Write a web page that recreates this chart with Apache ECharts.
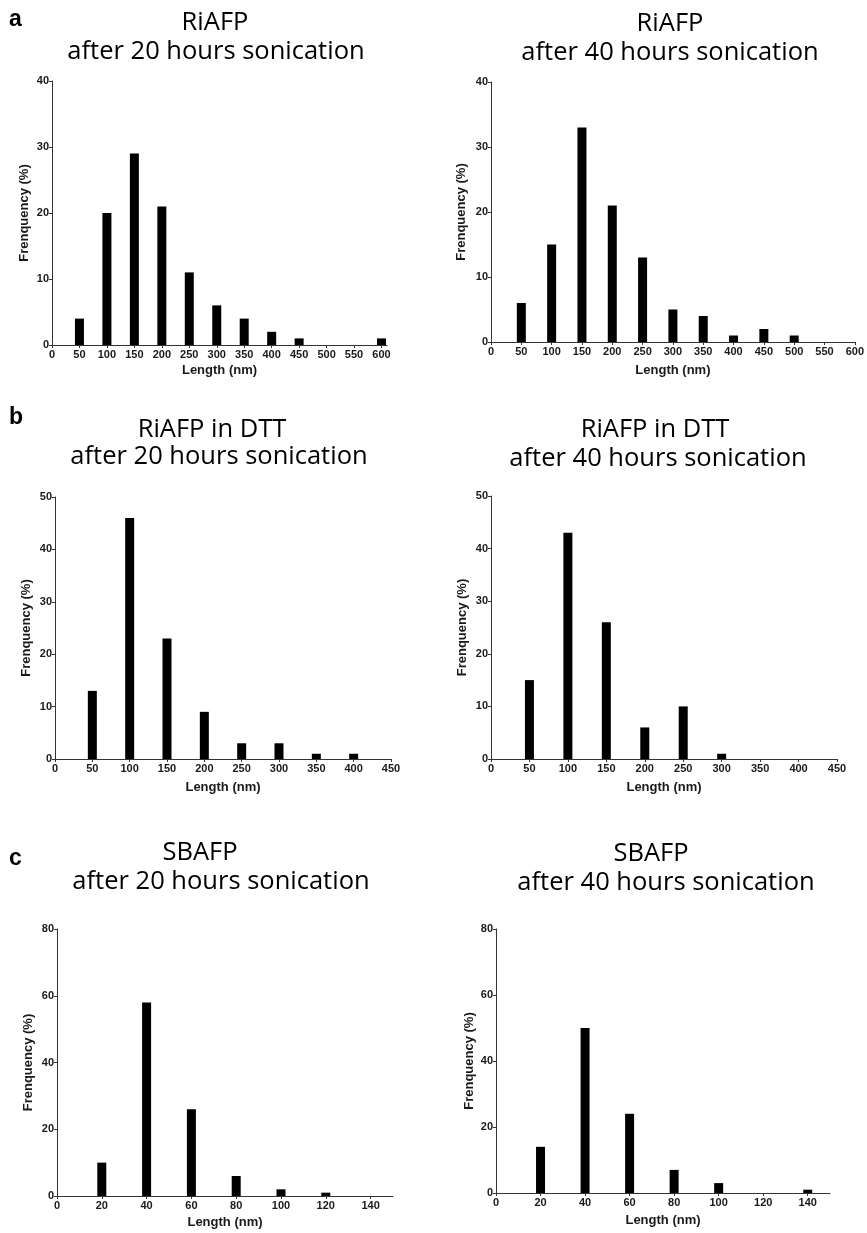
<!DOCTYPE html>
<html>
<head>
<meta charset="utf-8">
<script src="https://cdn.jsdelivr.net/npm/echarts@6/dist/echarts.min.js"></script>
<style>
html,body{margin:0;padding:0;background:#fff;}
#chart{width:867px;height:1233px;}
</style>
</head>
<body>
<div id="chart"></div>
<script>
// ---- data ----
const lenA = [50,100,150,200,250,300,350,400,450,500,550,600];
const freqA20 = [4,20,29,21,11,6,4,2,1,0,0,1];
const freqA40 = [6,15,33,21,13,5,4,1,2,1,0,0];
const lenB = [50,100,150,200,250,300,350,400];
const freqB20 = [13,46,23,9,3,3,1,1];
const freqB40 = [15,43,26,6,10,1,0,0];
const lenC = [20,40,60,80,100,120,140];
const freqC20 = [10,58,26,6,2,1,0];
const freqC40 = [14,50,24,7,3,0,1];
const xTicksA = [0,50,100,150,200,250,300,350,400,450,500,550,600];
const xTicksB = [0,50,100,150,200,250,300,350,400,450];
const xTicksC = [0,20,40,60,80,100,120,140];
const yTicksA = [0,10,20,30,40];
const yTicksB = [0,10,20,30,40,50];
const yTicksC = [0,20,40,60,80];
const titles = [
  ["RiAFP","after 20 hours sonication"],
  ["RiAFP","after 40 hours sonication"],
  ["RiAFP in DTT","after 20 hours sonication"],
  ["RiAFP in DTT","after 40 hours sonication"],
  ["SBAFP","after 20 hours sonication"],
  ["SBAFP","after 40 hours sonication"]
];
const panelLetters = ["a","b","c"];

// ---- layout ----
const panels = [
  {grid:{left:52,top:81,width:335,height:264}, xs:lenA, ys:freqA20, xt:xTicksA, yt:yTicksA, xmax:610, xGap:19, yGap:21,
   t1:[215,23], t2:[216,52]},
  {grid:{left:491,top:82,width:365,height:260}, xs:lenA, ys:freqA40, xt:xTicksA, yt:yTicksA, xmax:600, xGap:22, yGap:23,
   t1:[670,24], t2:[670,53]},
  {grid:{left:55,top:497,width:336,height:262}, xs:lenB, ys:freqB20, xt:xTicksB, yt:yTicksB, xmax:450, xGap:22, yGap:22,
   t1:[212,430], t2:[219,457]},
  {grid:{left:491,top:496,width:346,height:263}, xs:lenB, ys:freqB40, xt:xTicksB, yt:yTicksB, xmax:450, xGap:22, yGap:22,
   t1:[655,430], t2:[658,459]},
  {grid:{left:57,top:929,width:336,height:267}, xs:lenC, ys:freqC20, xt:xTicksC, yt:yTicksC, xmax:150, xGap:20, yGap:22,
   t1:[200,853], t2:[221,882]},
  {grid:{left:496,top:929,width:334,height:264}, xs:lenC, ys:freqC40, xt:xTicksC, yt:yTicksC, xmax:150, xGap:21, yGap:20,
   t1:[651,854], t2:[666,883]}
];

const axisColor = '#333';
const labelStyle = {color:'#1a1a1a', fontFamily:'Liberation Sans, Arial, sans-serif', fontWeight:'bold', fontSize:11};
const nameStyle = {color:'#1a1a1a', fontFamily:'Liberation Sans, Arial, sans-serif', fontWeight:'bold', fontSize:13};

const grids = [], xAxes = [], yAxes = [], series = [], graphics = [];
panels.forEach((p, i) => {
  grids.push(Object.assign({containLabel:false}, p.grid));
  const xint = p.xt[1] - p.xt[0];
  const yint = p.yt[1] - p.yt[0];
  xAxes.push({
    type:'value', gridIndex:i, min:0, max:p.xmax, interval:xint,
    name:'Length (nm)', nameLocation:'middle', nameGap:p.xGap, nameTextStyle:nameStyle,
    axisLine:{show:true, lineStyle:{color:axisColor, width:1}},
    axisTick:{show:true, length:3, lineStyle:{color:axisColor}, customValues:p.xt},
    axisLabel:Object.assign({margin:4, customValues:p.xt}, labelStyle),
    splitLine:{show:false}
  });
  yAxes.push({
    type:'value', gridIndex:i, min:0, max:p.yt[p.yt.length-1], interval:yint,
    name:'Frenquency (%)', nameLocation:'middle', nameGap:p.yGap, nameRotate:90, nameTextStyle:nameStyle,
    axisLine:{show:true, lineStyle:{color:axisColor, width:1}},
    axisTick:{show:true, length:3, lineStyle:{color:axisColor}},
    axisLabel:Object.assign({margin:3}, labelStyle),
    splitLine:{show:false}
  });
  series.push({
    type:'bar', xAxisIndex:i, yAxisIndex:i, barWidth:9, clip:false,
    itemStyle:{color:'#000'},
    data:p.xs.map((x, k) => [x, p.ys[k]])
  });
  const tf = '25.5px "Open Sans", sans-serif';
  graphics.push({type:'text', x:p.t1[0], y:p.t1[1], style:{text:titles[i][0], font:tf, fill:'#000', align:'center', verticalAlign:'middle'}});
  graphics.push({type:'text', x:p.t2[0], y:p.t2[1], style:{text:titles[i][1], font:tf, fill:'#000', align:'center', verticalAlign:'middle'}});
});
const letterPos = [[9,20],[9,418],[9,859]];
panelLetters.forEach((l, i) => {
  graphics.push({type:'text', x:letterPos[i][0], y:letterPos[i][1], style:{text:l, font:'bold 23px "Liberation Sans", Arial, sans-serif', fill:'#000', align:'left', verticalAlign:'middle'}});
});

const chart = echarts.init(document.getElementById('chart'), null, {renderer:'canvas'});
chart.setOption({
  animation:false,
  backgroundColor:'#fff',
  grid:grids, xAxis:xAxes, yAxis:yAxes, series:series,
  graphic:graphics
});
</script>
</body>
</html>
